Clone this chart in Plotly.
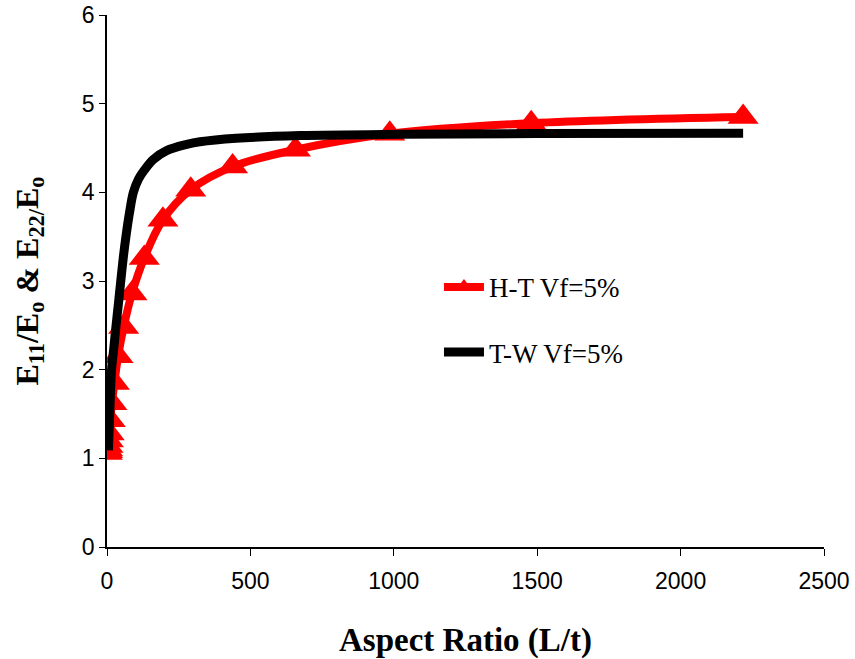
import plotly.graph_objects as go

# H-T Vf=5% (red, triangles)
ht_x = [1, 1.5, 2.25, 3.4, 5.1, 7.6, 11.4, 17.1, 25.7, 38.5, 58, 87, 130, 195, 292, 438, 657, 986, 1479, 2218]
ht_y = [1.06, 1.08, 1.10, 1.14, 1.20, 1.28, 1.43, 1.62, 1.85, 2.15, 2.48, 2.86, 3.26, 3.69, 4.03, 4.29, 4.48, 4.66, 4.78, 4.85]

# T-W Vf=5% (black line)
tw_x = [5, 10, 16, 24, 31, 40, 48, 57, 66, 78, 92, 110, 130, 161, 208, 278, 324, 450, 673, 1022, 1500, 2218]
tw_y = [1.09, 1.55, 2.0, 2.25, 2.48, 2.75, 3.0, 3.27, 3.5, 3.76, 4.0, 4.15, 4.25, 4.37, 4.47, 4.54, 4.57, 4.61, 4.64, 4.655, 4.663, 4.667]

x_ticks = [0, 500, 1000, 1500, 2000, 2500]
y_ticks = [0, 1, 2, 3, 4, 5, 6]

fig = go.Figure()
fig.add_trace(go.Scatter(
    x=ht_x, y=ht_y, mode="lines+markers", name="H-T Vf=5%",
    line=dict(color="#ff0000", width=8, shape="spline"),
    marker=dict(symbol="triangle-up", size=27, color="#ff0000"),
    legendgroup="a",
))
fig.add_trace(go.Scatter(
    x=tw_x, y=tw_y, mode="lines", name="T-W Vf=5%",
    line=dict(color="#000000", width=9, shape="spline"),
    legendgroup="b",
))

tick_font = dict(family="Liberation Sans, Arial", size=23, color="black")

fig.update_layout(
    width=855, height=659,
    margin=dict(l=107, r=31, t=15, b=112),
    paper_bgcolor="white", plot_bgcolor="white",
    font=dict(family="Liberation Sans, Arial", size=22, color="black"),
    legend=dict(
        x=0.463, y=0.534, xanchor="left", yanchor="top",
        bgcolor="rgba(0,0,0,0)",
        font=dict(family="Liberation Serif, Times New Roman", size=27, color="black"),
        tracegroupgap=27,
        itemwidth=40,
    ),
    xaxis=dict(
        range=[0, 2500], tickvals=x_ticks, ticktext=[str(v) for v in x_ticks],
        tickfont=tick_font,
        showgrid=False, zeroline=False, showline=True, linecolor="black", linewidth=1.5,
        ticks="outside", ticklen=7, tickcolor="black", ticklabelstandoff=6,
        automargin=False,
        title=dict(text="<b>Aspect Ratio (L/t)</b>", standoff=36,
                   font=dict(family="Liberation Serif, Times New Roman", size=33)),
    ),
    yaxis=dict(
        range=[0, 6], tickvals=y_ticks, ticktext=[str(v) for v in y_ticks],
        tickfont=tick_font,
        showgrid=False, zeroline=False, showline=True, linecolor="black", linewidth=1.5,
        ticks="outside", ticklen=6, tickcolor="black", ticklabelstandoff=0,
        automargin=False,
        title=dict(text="<b>E<sub>11</sub>/E<sub>o</sub> &amp; E<sub>22/</sub>E<sub>o</sub></b>", standoff=34,
                   font=dict(family="Liberation Serif, Times New Roman", size=32)),
    ),
)

fig.write_html("out.html", config={"displayModeBar": False},
               post_script="document.body.style.margin='0';")
